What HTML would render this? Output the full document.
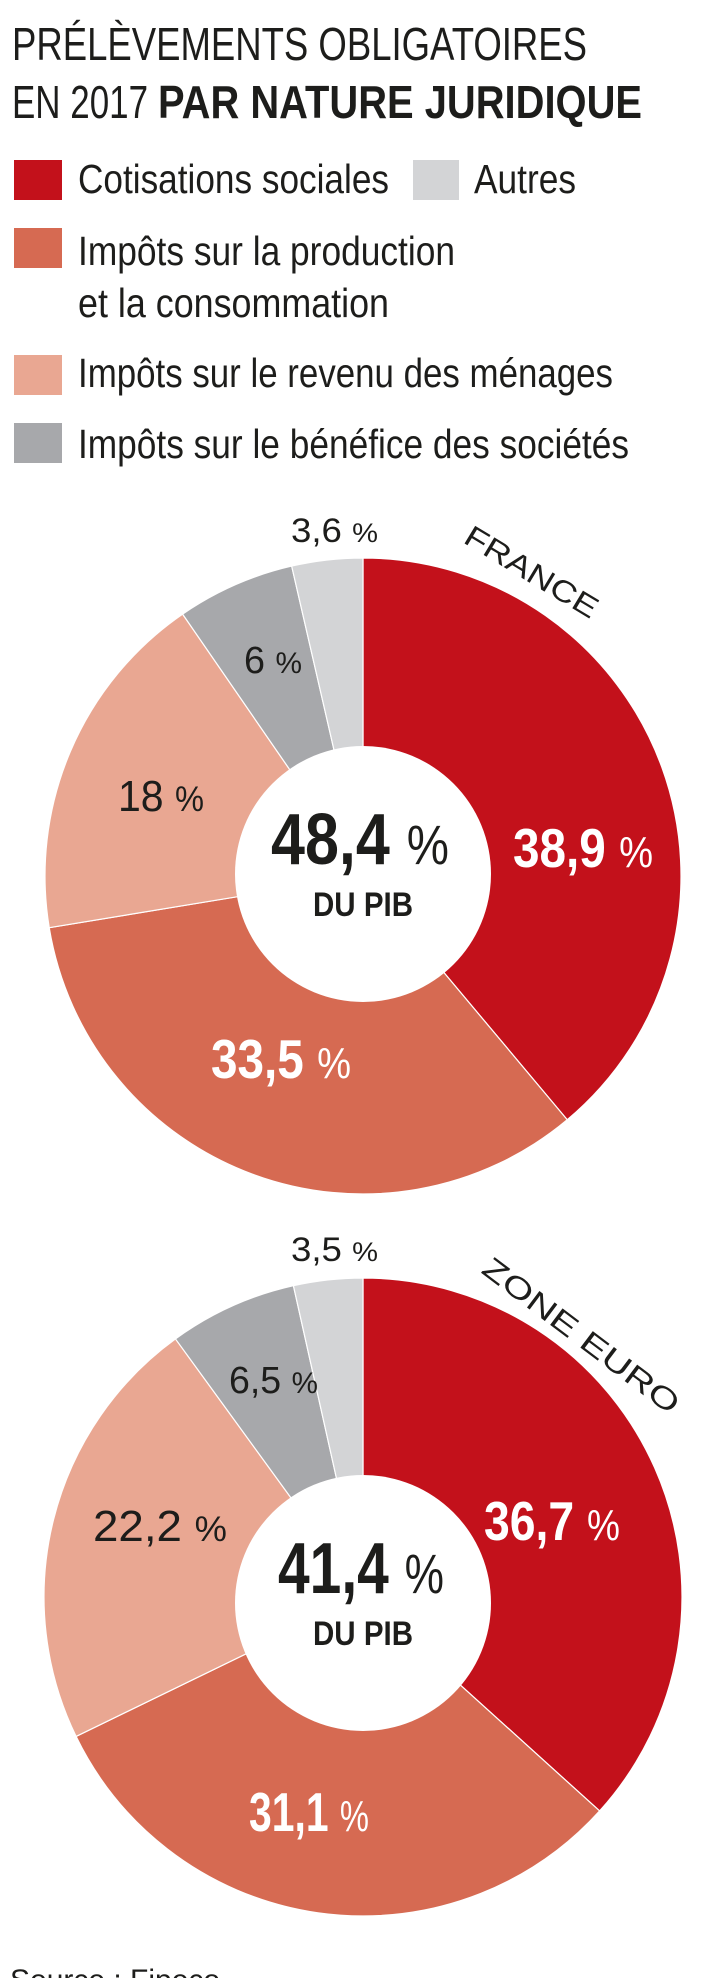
<!DOCTYPE html>
<html>
<head>
<meta charset="utf-8">
<style>
  html,body{margin:0;padding:0;background:#fff;}
  body{width:704px;height:1978px;overflow:hidden;}
  svg{display:block;}
  text{font-family:"Liberation Sans Narrow","Liberation Sans",sans-serif;}
</style>
</head>
<body>
<svg id="chart" width="704" height="1978" viewBox="0 0 704 1978" xmlns="http://www.w3.org/2000/svg">
  <g fill="#1d1d1b">
    <text x="12" y="60" font-size="46" textLength="575" lengthAdjust="spacingAndGlyphs">PRÉLÈVEMENTS OBLIGATOIRES</text>
    <text x="12" y="118" font-size="46" textLength="136" lengthAdjust="spacingAndGlyphs">EN 2017</text>
    <text x="158" y="118" font-size="46" font-weight="bold" textLength="484" lengthAdjust="spacingAndGlyphs">PAR NATURE JURIDIQUE</text>
  </g>
  <g fill="#1d1d1b" font-size="41">
    <rect x="14" y="160" width="48" height="40" fill="#c3111b"/>
    <text x="78" y="193" textLength="311" lengthAdjust="spacingAndGlyphs">Cotisations sociales</text>
    <rect x="413" y="160" width="46" height="40" fill="#d3d4d6"/>
    <text x="474" y="193" textLength="102" lengthAdjust="spacingAndGlyphs">Autres</text>
    <rect x="14" y="228" width="48" height="40" fill="#d66a52"/>
    <text x="78" y="265" textLength="377" lengthAdjust="spacingAndGlyphs">Impôts sur la production</text>
    <text x="78" y="317" textLength="311" lengthAdjust="spacingAndGlyphs">et la consommation</text>
    <rect x="14" y="355" width="48" height="40" fill="#e9a792"/>
    <text x="78" y="387" textLength="535" lengthAdjust="spacingAndGlyphs">Impôts sur le revenu des ménages</text>
    <rect x="14" y="423" width="48" height="40" fill="#a7a8ab"/>
    <text x="78" y="458" textLength="551" lengthAdjust="spacingAndGlyphs">Impôts sur le bénéfice des sociétés</text>
  </g>
  <g id="pies"></g>
  <text x="10" y="1990" font-size="30" fill="#1d1d1b">Source : Fipeco</text>
</svg>
<script>
const categories = ["Cotisations sociales","Impôts sur la production et la consommation","Impôts sur le revenu des ménages","Impôts sur le bénéfice des sociétés","Autres"];
const colors = ["#c3111b","#d66a52","#e9a792","#a7a8ab","#d3d4d6"];
const franceValues = [38.9, 33.5, 18, 6, 3.6];
const euroValues = [36.7, 31.1, 22.2, 6.5, 3.5];
const franceLabels = ["38,9","33,5","18","6","3,6"];
const euroLabels = ["36,7","31,1","22,2","6,5","3,5"];
const franceTotal = "48,4";
const euroTotal = "41,4";

const NS = "http://www.w3.org/2000/svg";
const pies = document.getElementById("pies");

function mk(tag, attrs, parent){
  const e = document.createElementNS(NS, tag);
  for (const k in attrs) e.setAttribute(k, attrs[k]);
  parent.appendChild(e);
  return e;
}
function pt(cx, cy, r, a){ return [cx + r*Math.sin(a), cy - r*Math.cos(a)]; }

function drawPie(cfg){
  const g = mk("g", {}, pies);
  
  
  const total = cfg.values.reduce((s,v)=>s+v,0);
  let acc = 0;
  cfg.values.forEach((v,i)=>{
    const a0 = acc/total*2*Math.PI; acc += v;
    const a1 = acc/total*2*Math.PI;
    const [x0,y0] = pt(cfg.cx,cfg.cy,cfg.r,a0);
    const [x1,y1] = pt(cfg.cx,cfg.cy,cfg.r,a1);
    const large = (a1-a0) > Math.PI ? 1 : 0;
    const p = mk("path", {d:`M${cfg.cx},${cfg.cy} L${x0},${y0} A${cfg.r},${cfg.r} 0 ${large} 1 ${x1},${y1} Z`, fill:colors[i], stroke:"#fff", "stroke-width":"1.2"}, g);
    
    
  });
  const hole = mk("circle", {cx:cfg.cx, cy:cfg.holeCy, r:cfg.holeR, fill:"#fff"}, g);
  
  
  cfg.labelPos.forEach((lp,i)=>{
    const t = mk("text", {x:lp[0], y:lp[1], "font-size":lp[2], fill:lp[3], "font-weight":lp[4], textLength:lp[5], lengthAdjust:"spacingAndGlyphs"}, g);
    
    
    t.appendChild(document.createTextNode(cfg.labels[i] + " "));
    const ts = mk("tspan", {"font-size": Math.round(lp[2]*0.8), "font-weight":"normal"}, t);
    ts.textContent = "%";
  });
  const tt = mk("text", {x:cfg.totalX, y:cfg.totalY, "font-size":72, "font-weight":"bold", fill:"#1d1d1b", textLength:cfg.totalLen, lengthAdjust:"spacingAndGlyphs"}, g);
  
  
  tt.appendChild(document.createTextNode(cfg.total + " "));
  const tp = mk("tspan", {"font-size":56, "font-weight":"normal"}, tt);
  tp.textContent = "%";
  const du = mk("text", {x:cfg.cx - 50, y:cfg.totalY+52, "font-size":34, "font-weight":"bold", fill:"#1d1d1b", textLength:100, lengthAdjust:"spacingAndGlyphs"}, g);
  
  
  du.textContent = "DU PIB";
  const nm = mk("text", {x:0, y:0, "font-size":30, fill:"#1d1d1b", transform:cfg.nameTransform, textLength:cfg.nameLen, lengthAdjust:"spacingAndGlyphs"}, g);
  
  
  nm.textContent = cfg.title;
}

drawPie({name:"france-donut", prefix:"france", cx:363, cy:876, r:318, holeCy:874, holeR:128,
  values:franceValues, labels:franceLabels, total:franceTotal, totalX:271, totalY:864, totalLen:178,
  labelPos:[[513,867,55,"#fff","bold",140],[211,1078,55,"#fff","bold",140],[118,811,44,"#1d1d1b","normal",86],[244,673,38,"#1d1d1b","normal",58],[291,542,34,"#1d1d1b","normal",87]],
  title:"FRANCE", nameTransform:"translate(462,542) rotate(31)", nameLen:150});

drawPie({name:"zone-euro-donut", prefix:"euro", cx:363, cy:1597, r:319, holeCy:1603, holeR:128,
  values:euroValues, labels:euroLabels, total:euroTotal, totalX:278, totalY:1593, totalLen:166,
  labelPos:[[484,1540,55,"#fff","bold",136],[249,1831,55,"#fff","bold",120],[93,1541,44,"#1d1d1b","normal",134],[229,1393,38,"#1d1d1b","normal",89],[291,1261,34,"#1d1d1b","normal",87]],
  title:"ZONE EURO", nameTransform:"translate(480,1272) rotate(37)", nameLen:238});
</script>
</body>
</html>
